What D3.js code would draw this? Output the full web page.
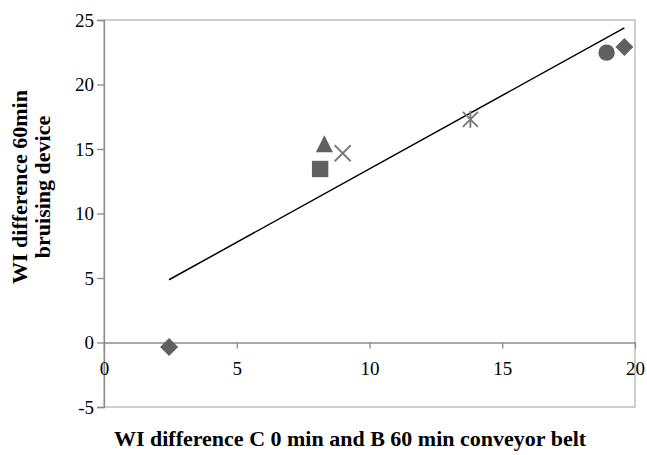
<!DOCTYPE html>
<html>
<head>
<meta charset="utf-8">
<script src="https://cdn.jsdelivr.net/npm/d3@7"></script>
<style>
  body { margin: 0; background: #fff; }
  svg text { font-family: "Liberation Serif", "Times New Roman", serif; }
</style>
</head>
<body>
<div id="chart-div"></div>
<script>
var props = {
  width: 647,
  height: 455,
  marginTop: 20,
  marginBottom: 48,
  marginLeft: 104,
  marginRight: 12
}

// values
var xValues = [2.45, 8.14, 8.3, 8.99, 13.8, 18.93, 19.6];
var yValues = [-0.35, 13.45, 15.4, 14.67, 17.3, 22.47, 22.9];
var shapes = ["diamond", "square", "triangle", "x", "star", "circle", "diamond"];
var xTicks = [0, 5, 10, 15, 20];
var yTicks = [-5, 0, 5, 10, 15, 20, 25];
var xTitle = "WI difference C 0 min and B 60 min conveyor belt";
var yTitle = ["WI difference 60min", "bruising device"];

var svg = d3.select("#chart-div").append("svg").attr("width", props.width).attr("height", props.height);

var plotW = props.width - props.marginLeft - props.marginRight;
var plotH = props.height - props.marginTop - props.marginBottom;

var xScale = d3.scaleLinear().domain([0, 20]).range([props.marginLeft, props.marginLeft + plotW]);
var yScale = d3.scaleLinear().domain([-5, 25]).range([props.marginTop + plotH, props.marginTop]);
var plainNum = function(d){ return String(d); };  // hyphen minus, like the original

// plot area frame
svg.append("rect")
  .attr("x", props.marginLeft).attr("y", props.marginTop)
  .attr("width", plotW).attr("height", plotH)
  .style("fill", "none").style("stroke", "#a0a0a0").style("stroke-width", 1);

// y axis
var yAxis = svg.append("g")
  .attr("transform", "translate(" + props.marginLeft + ",0)")
  .call(d3.axisLeft(yScale).tickValues(yTicks).tickSize(7).tickPadding(3).tickFormat(plainNum));
yAxis.select(".domain").style("stroke", "#8c8c8c").style("stroke-width", 1.3);
yAxis.selectAll(".tick line").style("stroke", "#8c8c8c").style("stroke-width", 1.3);
yAxis.selectAll("text").style("font-size", "19px").style("fill", "#000").style("font-family", "Liberation Serif");

// x axis at y = 0
var xAxis = svg.append("g")
  .attr("transform", "translate(0," + yScale(0) + ")")
  .call(d3.axisBottom(xScale).tickValues(xTicks).tickSize(6).tickPadding(13).tickSizeOuter(0).tickFormat(plainNum));
xAxis.select(".domain").style("stroke", "#8c8c8c").style("stroke-width", 1.5);
xAxis.selectAll(".tick line").style("stroke", "#8c8c8c").style("stroke-width", 1.3);
xAxis.selectAll("text").style("font-size", "19px").style("fill", "#000").style("font-family", "Liberation Serif");

// linear trendline (least squares, like the spreadsheet did)
var mx = d3.mean(xValues), my = d3.mean(yValues);
var sxy = d3.sum(xValues, function(d, i){ return (d - mx) * (yValues[i] - my); });
var sxx = d3.sum(xValues, function(d){ return (d - mx) * (d - mx); });
var slope = sxy / sxx;
var intercept = my - slope * mx;
var trend = d3.extent(xValues).map(function(x){ return {x: x, y: intercept + slope * x}; });
var lineGenerator = d3.line().x(function(d){ return xScale(d.x); }).y(function(d){ return yScale(d.y); });
svg.append("path")
  .attr("d", lineGenerator(trend))
  .style("fill", "none").style("stroke", "#000").style("stroke-width", 1.5);

// markers
function markerPath(shape, r){
  var p = d3.path();
  if(shape == "diamond"){
    var a = r * 0.9;
    p.moveTo(0, -a); p.lineTo(a, 0); p.lineTo(0, a); p.lineTo(-a, 0); p.closePath();
  } else if(shape == "square"){
    p.rect(-r * 0.82, -r * 0.82, r * 1.64, r * 1.64);
  } else if(shape == "triangle"){
    p.moveTo(0, -r * 0.85); p.lineTo(r * 0.85, r * 0.85); p.lineTo(-r * 0.85, r * 0.85); p.closePath();
  } else if(shape == "circle"){
    p.arc(0, 0, r * 0.82, 0, 2 * Math.PI);
  } else if(shape == "x"){
    var a = r * 0.8;
    p.moveTo(-a, -a); p.lineTo(a, a); p.moveTo(-a, a); p.lineTo(a, -a);
  } else if(shape == "star"){
    var a = r * 0.75;
    p.moveTo(-a, -a); p.lineTo(a, a); p.moveTo(-a, a); p.lineTo(a, -a);
    p.moveTo(0, -r * 0.85); p.lineTo(0, r * 0.85);
  }
  return p.toString();
}

var points = xValues.map(function(x, i){ return {x: x, y: yValues[i], shape: shapes[i]}; });
svg.selectAll(".point")
  .data(points)
  .enter()
  .append("path")
  .attr("class", "point")
  .attr("transform", function(d){ return "translate(" + xScale(d.x) + "," + yScale(d.y) + ")"; })
  .attr("d", function(d){ return markerPath(d.shape, 10); })
  .style("fill", function(d){ return (d.shape == "x" || d.shape == "star") ? "none" : "#606060"; })
  .style("stroke", function(d){ return (d.shape == "x" || d.shape == "star") ? "#777" : "none"; })
  .style("stroke-width", 1.8);

// axis titles
svg.append("text")
  .attr("x", 350).attr("y", 446)
  .attr("text-anchor", "middle")
  .style("font-size", "22px").style("font-weight", "bold")
  .text(xTitle);

var yt = svg.append("text")
  .attr("transform", "translate(0,187) rotate(-90)")
  .attr("text-anchor", "middle")
  .style("font-size", "22px").style("font-weight", "bold");
yt.selectAll("tspan").data(yTitle).enter().append("tspan")
  .attr("x", 0)
  .attr("y", function(d, i){ return 27 + i * 23; })
  .text(function(d){ return d; });
</script>
</body>
</html>
